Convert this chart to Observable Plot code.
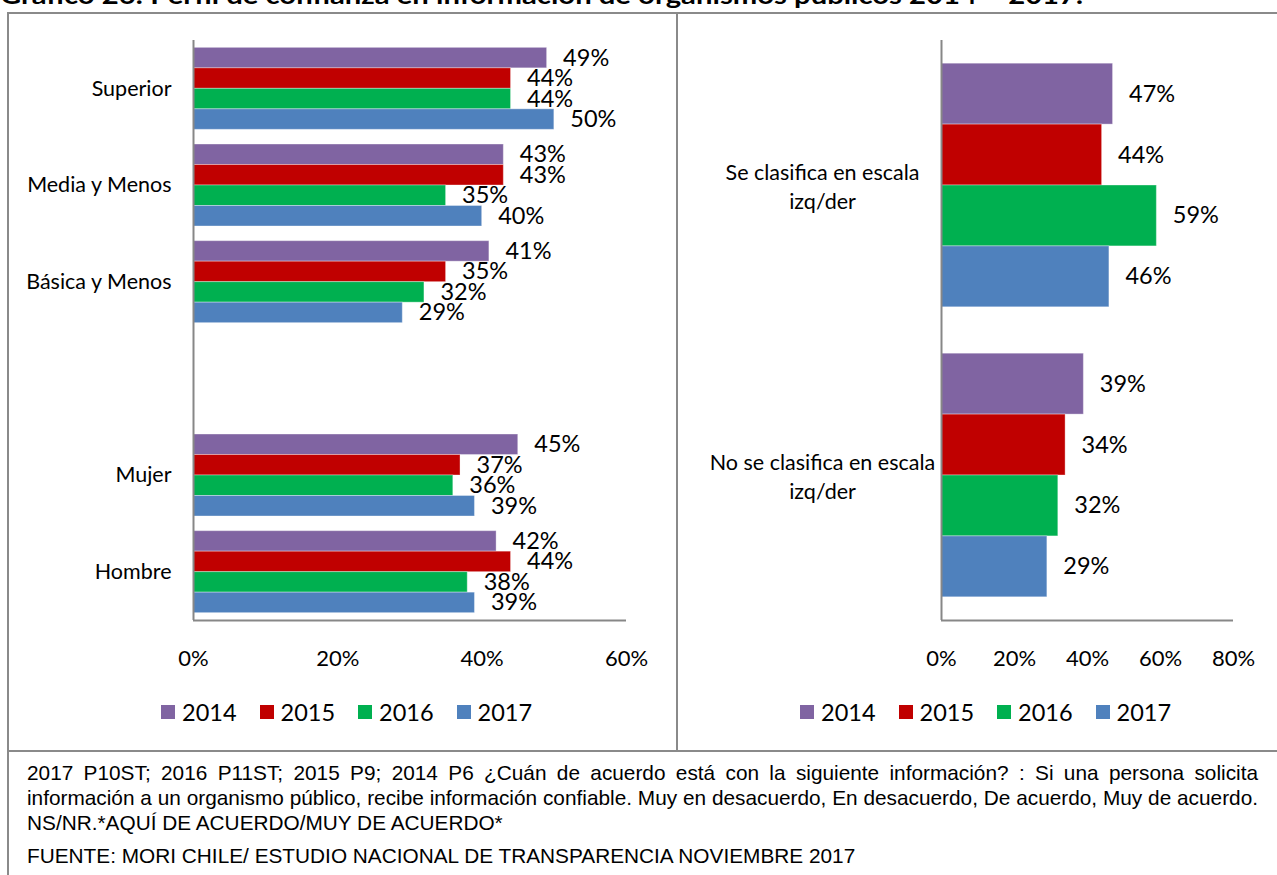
<!DOCTYPE html>
<html>
<head>
<meta charset="utf-8">
<script src="https://cdn.jsdelivr.net/npm/d3@7"></script>
<script src="https://cdn.jsdelivr.net/npm/@observablehq/plot@0.6"></script>
<style>
  html, body { margin: 0; padding: 0; background: #fff; }
  #root { position: relative; width: 1277px; height: 875px; overflow: hidden; font-family: Lato, sans-serif; }
  .abs { position: absolute; }
  .line { position: absolute; background: #8a8a8a; }
  #title { position: absolute; left: 0; top: -19px; font: bold 24px Lato, sans-serif; line-height: 1.2; white-space: nowrap; color: #000; transform-origin: 0 0; }
  .legend { position: absolute; display: flex; align-items: center; font: 23.5px Lato, sans-serif; color: #000; }
  .legend .item { display: flex; align-items: center; }
  .legend .sw { width: 14px; height: 14px; margin-right: 7px; }
  #footer { position: absolute; left: 27px; top: 760px; width: 1231px; font: 20.8px "Liberation Sans", Arial, sans-serif; line-height: 25px; color: #000; }
  #footer div { white-space: nowrap; }
  #footer .f { margin-top: 8px; }
</style>
</head>
<body>
<div id="root">
  <div id="title">Gráfico 26: Perfil de confianza en información de organismos públicos 2014 – 2017.</div>
  <div class="line" style="left:7px; top:12px; width:1270px; height:2px;"></div>
  <div class="line" style="left:7px; top:12px; width:1.5px; height:863px;"></div>
  <div class="line" style="left:676px; top:12px; width:1.5px; height:739px;"></div>
  <div class="line" style="left:7px; top:750px; width:1270px; height:2px;"></div>
  <div id="left" class="abs" style="left:8px; top:14px;"></div>
  <div id="right" class="abs" style="left:678px; top:14px;"></div>
  <div id="legendL" class="legend" style="left:161px; top:698px;"></div>
  <div id="legendR" class="legend" style="left:800px; top:698px;"></div>
  <div id="footer">
    <div class="j"><span>2017 P10ST; 2016 P11ST; 2015 P9; 2014 P6 ¿Cuán de acuerdo está con la siguiente información? : Si una persona solicita</span></div>
    <div class="j"><span>información a un organismo público, recibe información confiable. Muy en desacuerdo, En desacuerdo, De acuerdo, Muy de acuerdo.</span></div>
    <div>NS/NR.*AQUÍ DE ACUERDO/MUY DE ACUERDO*</div>
    <div class="f">FUENTE: MORI CHILE/ ESTUDIO NACIONAL DE TRANSPARENCIA NOVIEMBRE 2017</div>
  </div>
</div>
<script>
// ---- Data ----
const years = ["2014", "2015", "2016", "2017"];
const colors = ["#8064A2", "#C00000", "#00B050", "#4F81BD"];

const leftCategories = ["Superior", "Media y Menos", "Básica y Menos", "Mujer", "Hombre"];
const left2014 = [49, 43, 41, 45, 42];
const left2015 = [44, 43, 35, 37, 44];
const left2016 = [44, 35, 32, 36, 38];
const left2017 = [50, 40, 29, 39, 39];
const leftTicks = [0, 20, 40, 60];

const rightCategories = ["Se clasifica en escala\nizq/der", "No se clasifica en escala\nizq/der"];
const right2014 = [47, 39];
const right2015 = [44, 34];
const right2016 = [59, 32];
const right2017 = [46, 29];
const rightTicks = [0, 20, 40, 60, 80];

// ---- Build tables ----
function buildRows(categories, series, slotOf, pad, bw) {
  const rows = [];
  categories.forEach((cat, i) => {
    series.forEach((vals, k) => {
      const y1 = slotOf(i) + pad + k * bw;
      rows.push({cat, year: years[k], value: vals[i], y1, y2: y1 + bw, ym: y1 + bw / 2});
    });
  });
  return rows;
}
const leftRows = buildRows(leftCategories, [left2014, left2015, left2016, left2017], i => (i < 3 ? i : i + 1), 0.076, 0.212);
const leftLabels = leftCategories.map((c, i) => ({cat: c, y: (i < 3 ? i : i + 1) + 0.5}));
const rightRows = buildRows(rightCategories, [right2014, right2015, right2016, right2017], i => i, 0.08, 0.21);
const rightLabels = rightCategories.map((c, i) => ({cat: c, y: i + 0.5}));

const axisColor = "#878787";
const pct = d => d + "%";

function chart({rows, labels, slots, xmax, ticks, width, marginLeft, marginRight, labelAnchor, labelDx, labelLH}) {
  return Plot.plot({
    width, height: 680,
    marginLeft, marginRight, marginTop: 26, marginBottom: 74,
    style: {fontFamily: "Lato, sans-serif", fontSize: "22px", color: "#000", background: "transparent"},
    x: {domain: [0, xmax], ticks, tickFormat: pct, tickSize: 0, tickPadding: 30, label: null},
    y: {domain: [0, slots], reverse: true, axis: null},
    color: {domain: years, range: colors},
    marks: [
      Plot.rect(rows, {x1: d => 0, x2: "value", y1: "y1", y2: "y2", fill: "year", inset: 0, stroke: "white", strokeOpacity: 0.35, strokeWidth: 1}),
      Plot.ruleX([0], {stroke: axisColor, strokeWidth: 2}),
      Plot.ruleY([slots], {stroke: axisColor, strokeWidth: 2}),
      Plot.text(rows, {x: "value", y: "ym", text: d => d.value + "%", dx: 16, textAnchor: "start", fontSize: 23.5, fill: "#000"}),
      Plot.text(labels, {x: d => 0, y: "y", text: "cat", dx: labelDx, textAnchor: labelAnchor, lineAnchor: "middle", lineHeight: labelLH, fontSize: 21.5, fill: "#000"})
    ]
  });
}

document.getElementById("left").appendChild(chart({
  rows: leftRows, labels: leftLabels, slots: 6, xmax: 60, ticks: leftTicks,
  width: 668, marginLeft: 185, marginRight: 50, labelAnchor: "end", labelDx: -22, labelLH: 1
}));
document.getElementById("right").appendChild(chart({
  rows: rightRows, labels: rightLabels, slots: 2, xmax: 80, ticks: rightTicks,
  width: 599, marginLeft: 263, marginRight: 44, labelAnchor: "middle", labelDx: -119, labelLH: 1.36
}));

// ---- Legends ----
function legend(id) {
  const el = document.getElementById(id);
  years.forEach((y, k) => {
    const it = document.createElement("div");
    it.className = "item";
    it.style.width = "98.5px";
    const sw = document.createElement("span");
    sw.className = "sw";
    sw.style.background = colors[k];
    const t = document.createElement("span");
    t.textContent = y;
    it.appendChild(sw); it.appendChild(t);
    el.appendChild(it);
  });
}
legend("legendL");
legend("legendR");

// ---- Fit title width and justify footer lines ----
const title = document.getElementById("title");
const tw = title.getBoundingClientRect().width;
title.style.transform = `scaleX(${1083 / tw})`;

document.querySelectorAll("#footer .j span").forEach(sp => {
  const natural = sp.getBoundingClientRect().width;
  const spaces = (sp.textContent.match(/ /g) || []).length;
  sp.style.wordSpacing = ((1231 - natural) / spaces) + "px";
});
</script>
</body>
</html>
